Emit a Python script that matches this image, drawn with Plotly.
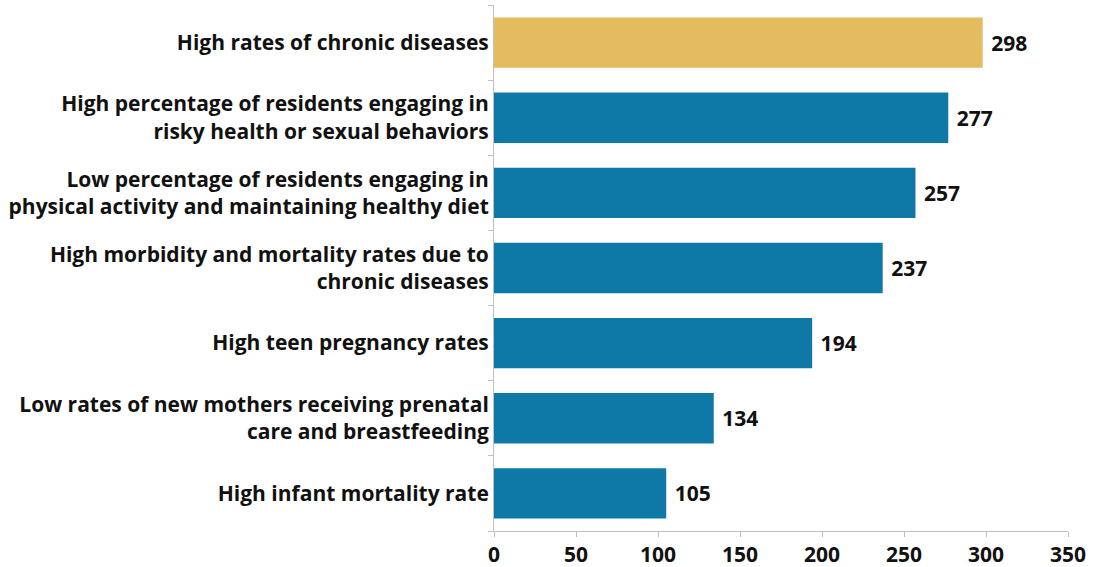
import plotly.graph_objects as go

# Health concerns, listed top to bottom
categories = [
    "High rates of chronic diseases",
    "High percentage of residents engaging in<br>risky health or sexual behaviors",
    "Low percentage of residents engaging in<br>physical activity and maintaining healthy diet",
    "High morbidity and mortality rates due to<br>chronic diseases",
    "High teen pregnancy rates",
    "Low rates of new mothers receiving prenatal<br>care and breastfeeding",
    "High infant mortality rate",
]
counts = [298, 277, 257, 237, 194, 134, 105]
x_ticks = [0, 50, 100, 150, 200, 250, 300, 350]

GOLD = "#E2BC5E"
BLUE = "#0E79A7"
bar_colors = [GOLD] + [BLUE] * (len(categories) - 1)

FONT = "Open Sans"
SIZE = 21

fig = go.Figure(
    go.Bar(
        x=counts,
        y=categories,
        orientation="h",
        marker=dict(color=bar_colors, line=dict(width=0)),
        text=[" " + str(v) for v in counts],
        textposition="outside",
        constraintext="none",
        textfont=dict(family=FONT, size=SIZE, color="#111111", weight="bold"),
        cliponaxis=False,
        hoverinfo="skip",
    )
)

fig.update_layout(
    width=1093,
    height=567,
    margin=dict(l=494, r=25, t=5, b=36),
    paper_bgcolor="white",
    plot_bgcolor="white",
    bargap=0.33,
    showlegend=False,
    font=dict(family=FONT, size=SIZE, color="#111111"),
)

fig.update_xaxes(
    range=[0, 350],
    tickvals=x_ticks,
    ticktext=[str(t) for t in x_ticks],
    automargin=False,
    showgrid=False,
    zeroline=False,
    showline=True,
    linecolor="#BFBFBF",
    linewidth=1,
    ticks="outside",
    ticklen=5,
    tickcolor="#BFBFBF",
    tickfont=dict(family=FONT, size=SIZE, color="#111111", weight="bold"),
)

fig.update_yaxes(
    categoryorder="array",
    categoryarray=categories[::-1],
    autorange=False,
    range=[-0.5, len(categories) - 0.5],
    automargin=False,
    showgrid=False,
    zeroline=False,
    showline=True,
    linecolor="#BFBFBF",
    linewidth=1,
    ticks="outside",
    tickson="boundaries",
    ticklen=5,
    tickcolor="#BFBFBF",
    tickfont=dict(family=FONT, size=SIZE, color="#111111", weight="bold"),
)

fig.write_html("out.html")
